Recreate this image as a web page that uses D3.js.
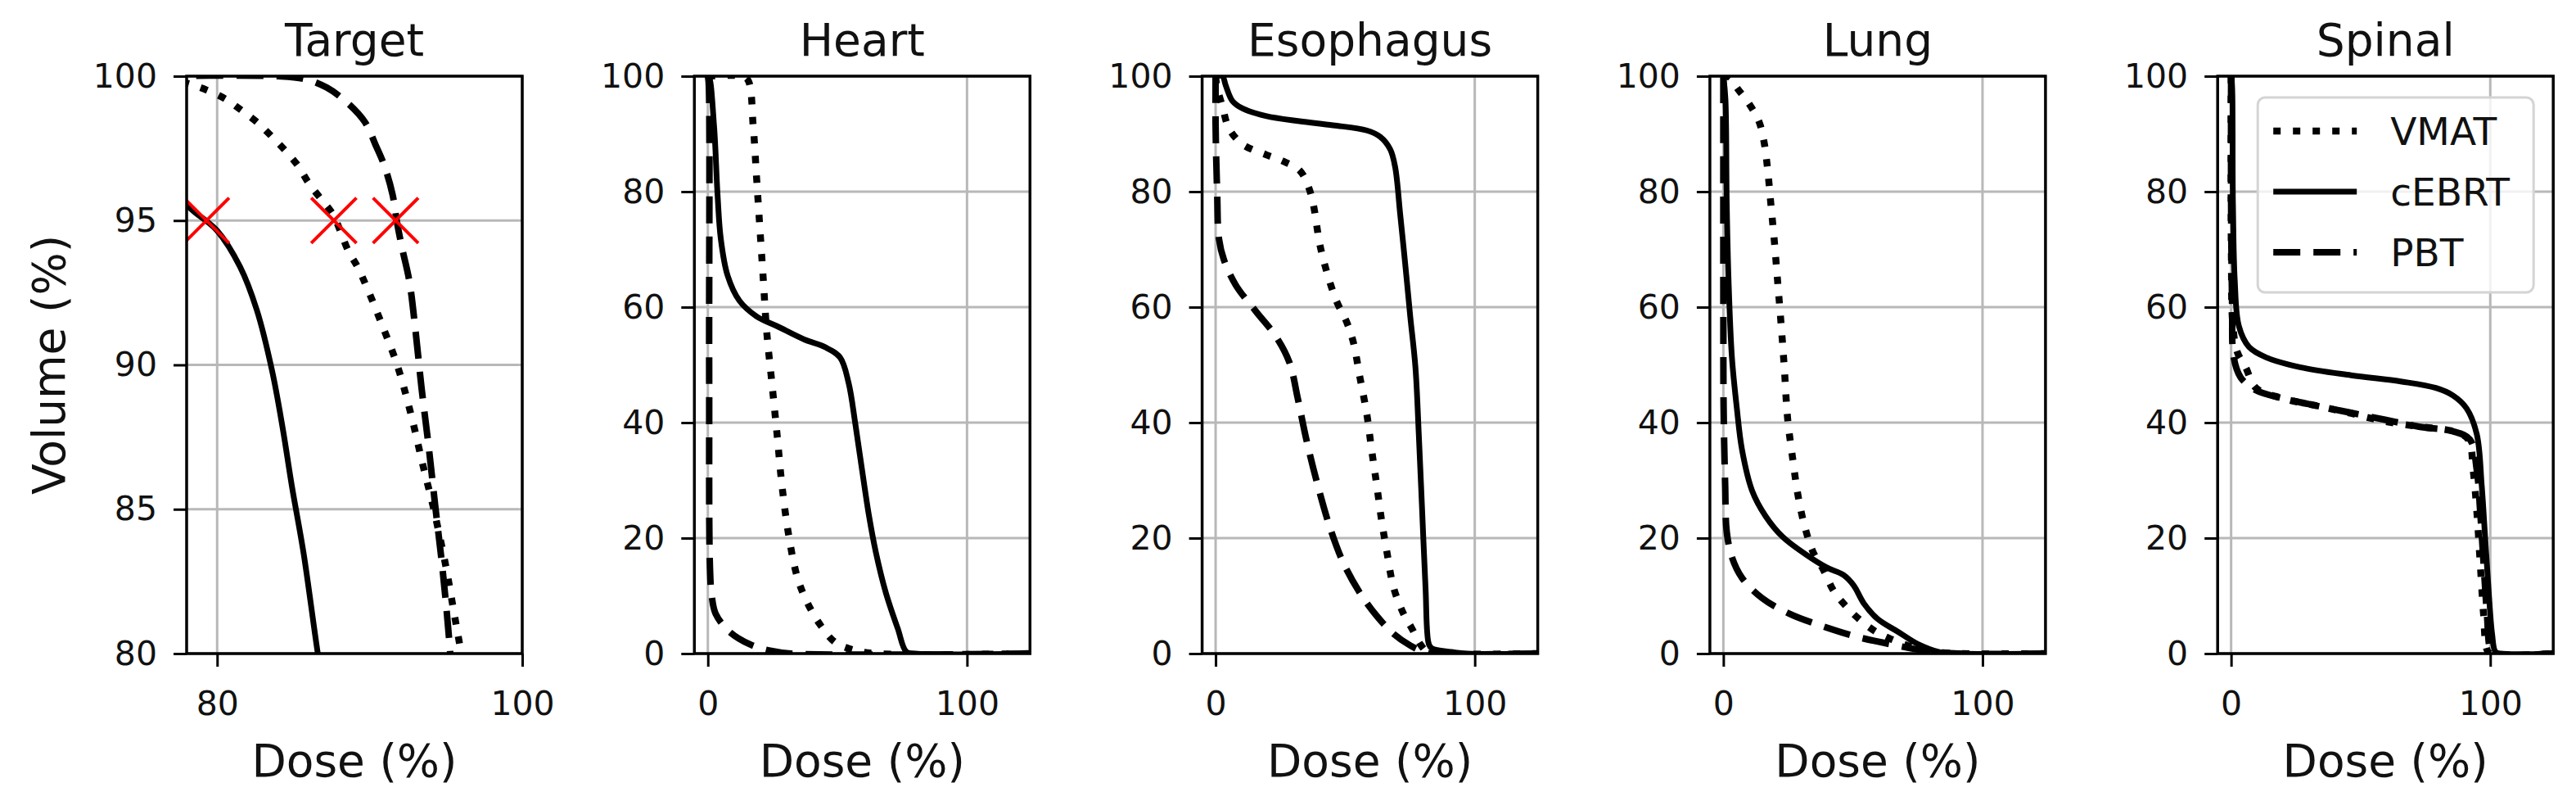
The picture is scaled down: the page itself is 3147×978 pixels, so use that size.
<!DOCTYPE html>
<html><head><meta charset="utf-8">
<script src="https://cdn.jsdelivr.net/npm/d3@7"></script>
<style>html,body{margin:0;padding:0;background:#fff}</style>
</head><body>
<svg id="chart" width="3147" height="978"></svg>
<script>
// ---------------- data ----------------
const organs = ["Target", "Heart", "Esophagus", "Lung", "Spinal"];
const plans = ["VMAT", "cEBRT", "PBT"];
const targetXTicks = [80, 100];
const targetYTicks = [80, 85, 90, 95, 100];
const organXTicks = [0, 100];
const organYTicks = [0, 20, 40, 60, 80, 100];
const targetXDomain = [78, 100];
const targetYDomain = [80, 100];
const organXDomain = [-5.2, 124.3];
const organYDomain = [0, 100];
const targetD95Dose = [79.3, 87.65, 91.7];   // cEBRT, VMAT, PBT
const targetD95Volume = 95;

// DVH curves: [dose %, volume %]
const targetVMAT = [[70,100],[76,100],[78.05,99.75],[79.4,99.5],[80.57,99.2],[81.64,98.8],[82.63,98.4],[83.6,97.9],[84.5,97.4],[85.3,96.9],[86.0,96.3],[86.8,95.75],[87.6,95.2],[88.6,93.95],[89.2,93.4],[89.8,92.7],[90.8,91.4],[91.8,90.0],[92.7,88.3],[93.5,86.5],[94.2,85],[95.0,83],[95.5,81.5],[96.0,80],[96.6,78]];
const targetCEBRT = [[66,100],[72,99.2],[75,97.8],[78,95.55],[80,94.65],[81.5,93.4],[82.6,91.9],[83.6,89.8],[84.3,87.8],[84.9,85.8],[85.66,83.5],[86.6,80.0],[87.5,77]];
const targetPBT = [[76,100],[84,100],[85.75,99.9],[87.2,99.6],[88.6,99.05],[89.7,98.4],[90.4,97.6],[90.96,96.9],[91.5,95.9],[91.77,95.0],[92.1,94.1],[92.6,92.9],[93.0,91.2],[93.4,89.2],[93.86,87.2],[94.3,85.1],[94.8,82.8],[95.28,80],[95.6,77]];

const heartVMAT = [[0,100],[13,100],[15.5,99.3],[17.5,91.3],[18.8,82.4],[20.1,73.5],[21.4,64.7],[22.7,55.8],[24.7,46.9],[26.7,38.0],[28.6,29.1],[31.3,20.2],[34.6,13.1],[38.5,8.7],[43.8,4.7],[49.0,2.0],[55.6,0.7],[65,0],[124,0]];
const heartCEBRT = [[0,100],[0.4,100],[2.4,91.3],[3.7,79.8],[5.0,71.8],[7.6,65.5],[12.2,61.1],[18.8,58.4],[26.7,56.7],[37.2,54.4],[45.1,53.1],[51.0,51.3],[54.3,46.9],[56.9,39.8],[59.5,31.8],[62.2,23.8],[64.8,17.6],[68.7,10.5],[73.3,4.3],[76.6,0.3],[80,0],[124,0]];
const heartPBT = [[0,100],[0.3,99],[0.5,50],[0.8,15],[1.5,10],[3,6.9],[8.3,3.8],[16.2,1.6],[24,0.5],[32,0],[124,0]];

const esoVMAT = [[0,100],[0.6,98],[2.6,94.8],[5.2,90.9],[10.4,88.2],[19.4,86.4],[25.9,85.3],[32.4,83.7],[35.6,81.1],[37.6,78.0],[40.2,70.9],[42.7,66.4],[46.6,61.1],[50.5,57.5],[53.1,54.0],[55.7,47.8],[58.3,41.6],[60.2,35.3],[62.2,29.1],[64.1,22.9],[66.1,17.6],[68.7,11.4],[72.5,6.9],[75.8,4.3],[79.0,1.6],[81.6,0.3],[85,0],[124,0]];
const esoCEBRT = [[0,100],[2.6,100],[3.9,98.4],[6.5,95.7],[10.4,94.4],[19.4,93.1],[32.4,92.2],[45.3,91.5],[58.3,90.6],[63.5,89.5],[67.4,87.3],[69.3,84.2],[71.2,76.2],[73.2,67.3],[75.1,58.4],[77.1,49.6],[78.4,38.0],[79.7,24.7],[81.0,11.4],[82.3,1.6],[83.5,0.9],[90.7,0.3],[97,0],[124,0]];
const esoPBT = [[0,100],[0,91.3],[0.6,79.8],[1.3,71.8],[3.2,68.2],[7.8,63.8],[15.5,59.3],[23.3,54.9],[28.5,50.4],[31.7,44.2],[35.0,37.1],[38.9,30.0],[44.0,22.0],[49.2,15.8],[55.7,10.5],[62.2,6.5],[68.7,3.4],[75.1,1.4],[80.3,0.3],[82.9,0],[124,0]];

const lungVMAT = [[0,100],[2.5,99.8],[5.2,98],[9.8,95.3],[13.7,92.2],[15.7,88.6],[17.0,84.2],[18.3,78.0],[19.6,71.8],[20.9,64.7],[22.2,57.5],[23.5,49.6],[24.8,40.7],[26.8,33.6],[28.8,27.4],[31.4,22.0],[34.6,17.6],[38.6,14.5],[42.5,10.9],[47.1,8.3],[52.3,6.0],[58.8,3.8],[64.7,2.5],[72.5,1.2],[81.7,0.3],[90.8,0],[124,0]];
const lungCEBRT = [[0,100],[0.8,96],[1.3,78],[2.0,64.7],[3.3,51.3],[5.2,42.5],[7.2,35.3],[11.1,28.2],[16.3,23.8],[22.9,20.2],[32.0,17.1],[39.9,14.9],[46.4,13.6],[50.3,11.8],[54.2,8.7],[59.5,6.0],[67.3,3.8],[75.2,1.6],[83.0,0.3],[90.8,0],[124,0]];
const lungPBT = [[0,100],[0,60.2],[0.1,42.5],[0.7,29.1],[1.3,21.1],[3.3,16.7],[7.2,13.1],[15.0,9.6],[25.5,6.9],[38.6,4.7],[51.6,2.9],[64.7,1.6],[77.8,0.5],[90.8,0],[124,0]];

const spinalVMAT = [[0,100],[0.1,69],[0.7,56.7],[2.4,52.2],[5.6,49.6],[9.6,46],[20,44.2],[33.2,42.9],[46.3,41.6],[59.4,40.2],[72.5,39.3],[85.6,38.5],[91.5,37.1],[93.4,31.8],[94.8,24.7],[96.1,15.8],[97.4,6.9],[98.7,0.7],[100,0],[124,0]];
const spinalCEBRT = [[0,100],[0.1,100],[0.7,78],[1.4,64.7],[3.0,56.7],[6.9,53.1],[13.5,51.3],[26.6,49.6],[46.3,48.2],[65.9,47.1],[79.0,46.0],[85.6,44.7],[90.8,42.5],[94.8,38.0],[96.7,29.1],[98.0,20.2],[99.3,11.4],[100.7,3.4],[102.0,0.3],[103.9,0],[124,0]];
const spinalPBT = [[0,100],[0,78],[0.4,60.2],[1.0,51.3],[3.7,47.8],[9.6,45.6],[20,44.2],[33.2,42.9],[46.3,41.7],[59.4,40.5],[72.5,39.3],[85.6,38.5],[92.1,37.1],[94.8,31.8],[96.1,24.7],[97.4,15.8],[98.7,6.9],[100,0.7],[101.3,0],[124,0]];

const seriesByOrgan = [
  [targetVMAT, targetCEBRT, targetPBT],
  [heartVMAT, heartCEBRT, heartPBT],
  [esoVMAT, esoCEBRT, esoPBT],
  [lungVMAT, lungCEBRT, lungPBT],
  [spinalVMAT, spinalCEBRT, spinalPBT]
];

// ---------------- layout / style ----------------
const W = 3147, H = 978;
const M = {top: 93, bottom: 798, left0: 228, step: 620.3, w: 410};
const FONT = "DejaVu Sans, Liberation Sans, sans-serif";
const dashFor = {VMAT: "9,15", cEBRT: null, PBT: "33,16"};
const widthFor = {VMAT: 8.5, cEBRT: 7, PBT: 8};

const svg = d3.select("#chart");
svg.append("rect").attr("width", W).attr("height", H).attr("fill", "#fff");
const defs = svg.append("defs");

organs.forEach((name, i) => {
  const L = M.left0 + i * M.step, R = L + M.w;
  const isT = i === 0;
  const xt = isT ? targetXTicks : organXTicks;
  const yt = isT ? targetYTicks : organYTicks;
  const x = d3.scaleLinear().domain(isT ? targetXDomain : organXDomain).range([L, R]);
  const y = d3.scaleLinear().domain(isT ? targetYDomain : organYDomain).range([M.bottom, M.top]);
  const g = svg.append("g");

  // grid
  g.append("g").selectAll("line").data(xt).join("line")
    .attr("x1", d => x(d)).attr("x2", d => x(d)).attr("y1", M.top).attr("y2", M.bottom)
    .attr("stroke", "#b8b8b8").attr("stroke-width", 3);
  g.append("g").selectAll("line").data(yt).join("line")
    .attr("y1", d => y(d)).attr("y2", d => y(d)).attr("x1", L).attr("x2", R)
    .attr("stroke", "#b8b8b8").attr("stroke-width", 3);

  // clip
  const cid = "clip" + i;
  defs.append("clipPath").attr("id", cid).append("rect")
    .attr("x", L).attr("y", M.top).attr("width", M.w).attr("height", M.bottom - M.top);

  const line = d3.line().x(d => x(d[0])).y(d => y(d[1])).curve(d3.curveCatmullRom.alpha(0.5));
  const lg = g.append("g").attr("clip-path", `url(#${cid})`);
  plans.forEach((p, j) => {
    lg.append("path").datum(seriesByOrgan[i][j]).attr("d", line)
      .attr("fill", "none").attr("stroke", "#000").attr("stroke-width", widthFor[p])
      .attr("stroke-dasharray", dashFor[p]).attr("stroke-linejoin", "round");
  });

  if (isT) {
    lg.selectAll("path.mk").data(targetD95Dose).join("path").attr("class", "mk")
      .attr("d", d3.symbol().type(d3.symbolX).size(2000))
      .attr("transform", d => `translate(${x(d)},${y(targetD95Volume)})`)
      .attr("fill", "none").attr("stroke", "#ff0000").attr("stroke-width", 4);
  }

  // frame
  g.append("rect").attr("x", L).attr("y", M.top).attr("width", M.w).attr("height", M.bottom - M.top)
    .attr("fill", "none").attr("stroke", "#000").attr("stroke-width", 3.5);

  // axes
  const ax = g.append("g").attr("transform", `translate(0,${M.bottom})`)
    .call(d3.axisBottom(x).tickValues(xt).tickSize(16).tickPadding(30).tickFormat(d3.format("d")));
  const ay = g.append("g").attr("transform", `translate(${L},0)`)
    .call(d3.axisLeft(y).tickValues(yt).tickSize(16).tickPadding(20).tickFormat(d3.format("d")));
  [ax, ay].forEach(a => {
    a.select(".domain").remove();
    a.selectAll("line").attr("stroke", "#000").attr("stroke-width", 3);
    a.selectAll("text").attr("font-size", 41).attr("font-family", FONT).attr("fill", "#111");
  });

  // title + x label
  g.append("text").attr("x", (L + R) / 2).attr("y", 68).attr("text-anchor", "middle")
    .attr("font-family", FONT).attr("font-size", 55).attr("fill", "#111").text(name);
  g.append("text").attr("x", (L + R) / 2).attr("y", 948).attr("text-anchor", "middle")
    .attr("font-family", FONT).attr("font-size", 55).attr("fill", "#111").text("Dose (%)");

  if (isT) {
    g.append("text").attr("transform", `translate(79,${(M.top + M.bottom) / 2}) rotate(-90)`)
      .attr("text-anchor", "middle").attr("font-family", FONT).attr("font-size", 55)
      .attr("fill", "#111").text("Volume (%)");
  }

  if (i === organs.length - 1) {
    const lgX = L + 49, lgY = 119;
    const leg = g.append("g");
    leg.append("rect").attr("x", lgX).attr("y", lgY).attr("width", 337).attr("height", 238)
      .attr("rx", 9).attr("fill", "#fff").attr("fill-opacity", 0.8)
      .attr("stroke", "#d4d4d4").attr("stroke-width", 3);
    plans.forEach((p, j) => {
      const ry = 160 + j * 74;
      leg.append("line").attr("x1", L + 68).attr("x2", L + 170).attr("y1", ry).attr("y2", ry)
        .attr("stroke", "#000").attr("stroke-width", widthFor[p]).attr("stroke-dasharray", dashFor[p]);
      leg.append("text").attr("x", L + 211).attr("y", ry).attr("dy", "0.36em")
        .attr("font-family", FONT).attr("font-size", 47).attr("fill", "#111").text(p);
    });
  }
});
</script>
</body></html>
